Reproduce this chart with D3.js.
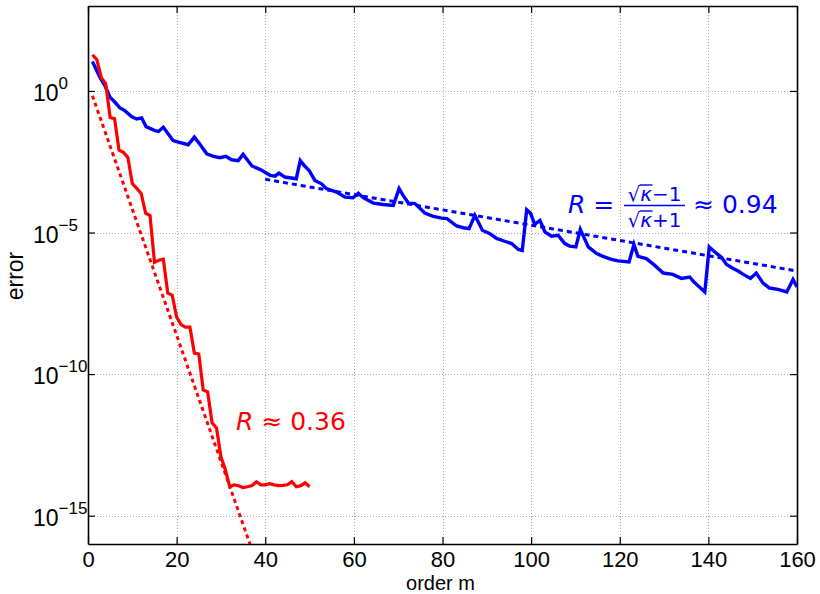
<!DOCTYPE html>
<html>
<head>
<meta charset="utf-8">
<script src="https://cdn.jsdelivr.net/npm/d3@7"></script>
<style>
  html, body { margin: 0; padding: 0; background: #fff; }
  svg { display: block; }
</style>
</head>
<body>
<svg id="chart" width="820" height="594"></svg>
<script>
// ---------------- DATA (log10 of error) ----------------
const xTicks = [0, 20, 40, 60, 80, 100, 120, 140, 160];
const yTickExps = [0, -5, -10, -15];

const redM = [1,2,3,4,5,6,7,8,9,10,11,12,13,14,15,16,17,18,19,20,21,22,23,24,25,
              26,27,28,29,30,31,32,33,34,35,36,37,38,39,40,41,42,43,44,45,46,47,48,49,50];
const redLog10 = [1.28,1.10,0.47,0.26,-0.94,-0.98,-2.09,-2.17,-2.35,-3.27,-3.44,-3.62,-4.32,-4.40,
                  -6.05,-5.98,-5.94,-7.14,-7.21,-7.99,-8.25,-8.34,-8.34,-9.26,-9.29,-10.56,-10.63,
                  -11.72,-11.90,-12.92,-13.38,-13.98,-13.91,-13.94,-14.01,-13.98,-13.94,-13.80,
                  -13.91,-13.91,-13.87,-13.91,-13.94,-13.93,-13.91,-13.80,-13.98,-13.94,-13.84,-13.98];

const blueM = [1,2.7,3.8,5,6.1,7.2,8.1,9.9,11,12.1,13.1,15.1,15.9,17,19.2,20.4,22.6,24,25.3,26.8,
               28.3,29.8,31.1,32.4,33.9,35,37,38.8,41.1,42.2,43.1,44.4,47,47.9,49,49.9,51.2,52.7,
               53.8,56.1,58,59.8,61,62.1,64.4,66.6,68.9,70.2,71.1,72.3,73.8,76,77.9,79.8,81,83.2,
               84.7,86,87.3,89,90.7,92.2,93.7,95.6,97.1,98,99,99.9,100.8,102,103.1,104.6,106.1,
               107.6,108.7,110.1,111.1,112.9,114.8,116.2,118.1,119.6,122.1,123.2,124.1,126,127.9,
               129.8,132,133.9,135.8,136.7,138.1,139.2,140.2,141.7,143,144.1,145.6,146.7,147.8,
               149.5,150.8,152.3,153.8,155.7,157.7,159.1,160];
const blueLog10 = [1.04,0.48,0.19,-0.23,-0.40,-0.60,-0.67,-0.91,-0.99,-0.95,-1.26,-1.40,-1.43,-1.28,
                   -1.75,-1.81,-1.90,-1.63,-1.89,-2.22,-2.31,-2.36,-2.31,-2.43,-2.46,-2.24,-2.65,-2.77,
                   -2.98,-3.01,-2.90,-3.04,-3.10,-2.46,-2.67,-2.81,-3.16,-3.28,-3.45,-3.57,-3.75,-3.77,
                   -3.61,-3.77,-3.96,-4.01,-4.04,-3.45,-3.69,-3.96,-3.98,-4.31,-4.43,-4.49,-4.51,-4.77,
                   -4.83,-4.86,-4.39,-4.92,-5.04,-5.21,-5.29,-5.39,-5.60,-5.63,-4.20,-4.33,-4.71,-4.57,
                   -4.98,-5.13,-5.10,-5.39,-5.48,-5.51,-4.89,-5.51,-5.74,-5.84,-5.95,-6.00,-6.04,-5.42,
                   -5.84,-5.92,-6.16,-6.43,-6.48,-6.62,-6.57,-6.74,-6.94,-7.10,-5.51,-5.72,-5.88,-6.13,
                   -6.27,-6.36,-6.47,-6.62,-6.43,-6.78,-6.96,-7.01,-7.10,-6.66,-6.92];

const redFitM = [1, 37];
const redFitLog10 = [-0.17, -16.2];
const blueFitM = [40, 160];
const blueFitLog10 = [-3.12, -6.36];

// ---------------- LAYOUT ----------------
const L = 88, R = 797, T = 6, B = 544;
const svg = d3.select("#chart");
const x = d3.scaleLinear().domain([0, 160]).range([L, R]);
const y = d3.scaleLog().domain([1e-16, 1e3]).range([B, T]);

const toPts = (ms, ls) => ms.map((m, i) => ({ m: m, v: Math.pow(10, ls[i]) }));
const redData = toPts(redM, redLog10);
const blueData = toPts(blueM, blueLog10);
const redFit = toPts(redFitM, redFitLog10);
const blueFit = toPts(blueFitM, blueFitLog10);

svg.append("defs").append("clipPath").attr("id", "clip")
  .append("rect").attr("x", L).attr("y", T).attr("width", R - L).attr("height", B - T);

// grid
const grid = svg.append("g").attr("stroke", "#a8a8a8").attr("stroke-width", 1)
  .attr("stroke-dasharray", "1,2").attr("shape-rendering", "crispEdges");
xTicks.filter(t => t > 0 && t < 160).forEach(t => {
  grid.append("line").attr("x1", Math.round(x(t)) + 0.5).attr("x2", Math.round(x(t)) + 0.5)
    .attr("y1", T).attr("y2", B);
});
yTickExps.forEach(e => {
  grid.append("line").attr("y1", Math.round(y(Math.pow(10, e))) + 0.5)
    .attr("y2", Math.round(y(Math.pow(10, e))) + 0.5).attr("x1", L).attr("x2", R);
});

// axes (inward ticks, box)
const yTickVals = yTickExps.map(e => Math.pow(10, e));
const axB = svg.append("g").attr("transform", `translate(0,${B})`)
  .call(d3.axisBottom(x).tickValues(xTicks).tickSizeInner(-7).tickSizeOuter(0).tickPadding(7).tickFormat(d3.format("d")));
const axT = svg.append("g").attr("transform", `translate(0,${T})`)
  .call(d3.axisTop(x).tickValues(xTicks).tickSizeInner(-7).tickSizeOuter(0).tickFormat(""));
const axL = svg.append("g").attr("transform", `translate(${L},0)`)
  .call(d3.axisLeft(y).tickValues(yTickVals).tickSizeInner(-7).tickSizeOuter(0).tickFormat(""));
const axR = svg.append("g").attr("transform", `translate(${R},0)`)
  .call(d3.axisRight(y).tickValues(yTickVals).tickSizeInner(-7).tickSizeOuter(0).tickFormat(""));
[axB, axT, axL, axR].forEach(a => {
  a.select(".domain").attr("stroke", "#000").attr("stroke-width", 1.6);
  a.selectAll(".tick line").attr("stroke", "#000").attr("stroke-width", 1.2);
});
axB.selectAll(".tick text").attr("font-family", "'Liberation Sans', Arial, sans-serif")
  .attr("font-size", 22).attr("fill", "#000");

// y tick labels 10^e
yTickExps.forEach(e => {
  const yy = y(Math.pow(10, e));
  const t = svg.append("text").attr("x", 33).attr("y", yy + 10)
    .attr("font-family", "'Liberation Sans', Arial, sans-serif").attr("font-size", 23).attr("fill", "#000");
  t.append("tspan").text("10");
  t.append("tspan").attr("font-size", 17).attr("dy", -12).text(e === 0 ? "0" : "\u2212" + Math.abs(e));
});

// axis titles
svg.append("text").attr("x", (L + R) / 2 - 2).attr("y", 589.5).attr("text-anchor", "middle")
  .attr("font-family", "'Liberation Sans', Arial, sans-serif").attr("font-size", 20).text("order m");
svg.append("text").attr("transform", "translate(23,276) rotate(-90)").attr("text-anchor", "middle")
  .attr("font-family", "'Liberation Sans', Arial, sans-serif").attr("font-size", 23).text("error");

// lines
const line = d3.line().x(d => x(d.m)).y(d => y(d.v));
const plot = svg.append("g").attr("clip-path", "url(#clip)");
plot.append("path").datum(redFit).attr("d", line).attr("fill", "none")
  .attr("stroke", "#ff0000").attr("stroke-width", 3).attr("stroke-dasharray", "4,3.5");
plot.append("path").datum(blueFit).attr("d", line).attr("fill", "none")
  .attr("stroke", "#0000ff").attr("stroke-width", 3).attr("stroke-dasharray", "5,4");
plot.append("path").datum(blueData).attr("d", line).attr("fill", "none")
  .attr("stroke", "#0000ff").attr("stroke-width", 3.4).attr("stroke-linejoin", "miter");
plot.append("path").datum(redData).attr("d", line).attr("fill", "none")
  .attr("stroke", "#ff0000").attr("stroke-width", 3.2).attr("stroke-linejoin", "miter");

// annotations
const AF = "'DejaVu Sans', sans-serif";
const red = svg.append("text").attr("x", 236).attr("y", 430).attr("font-family", AF)
  .attr("font-size", 25).attr("fill", "#ff0000");
red.append("tspan").attr("font-style", "italic").text("R");
red.append("tspan").text(" \u2248 0.36");

const blueG = svg.append("g").attr("fill", "#0000ff").attr("font-family", AF);
const b1 = blueG.append("text").attr("x", 568).attr("y", 213).attr("font-size", 25);
b1.append("tspan").attr("font-style", "italic").text("R");
b1.append("tspan").text(" =");
const fx0 = 624, fx1 = 685, fcx = (fx0 + fx1) / 2;
function frac(yb, sign) {
  const t = blueG.append("text").attr("x", fcx).attr("y", yb).attr("font-size", 20).attr("text-anchor", "middle");
  t.append("tspan").text("\u221A");
  t.append("tspan").attr("font-style", "italic").text("\u03BA");
  t.append("tspan").text(sign + "1");
  // radical overbar over kappa
  const n = t.node();
  const s = n.getStartPositionOfChar(1).x, e = n.getEndPositionOfChar(1).x;
  blueG.append("line").attr("x1", s - 0.5).attr("x2", e + 0.5).attr("y1", yb - 16).attr("y2", yb - 16)
    .attr("stroke", "#0000ff").attr("stroke-width", 1.4);
}
frac(201, "\u2212");
frac(227, "+");
blueG.append("line").attr("x1", fx0).attr("x2", fx1).attr("y1", 205.5).attr("y2", 205.5)
  .attr("stroke", "#0000ff").attr("stroke-width", 1.5);
blueG.append("text").attr("x", 693).attr("y", 213).attr("font-size", 25).text("\u2248 0.94");
</script>
</body>
</html>
